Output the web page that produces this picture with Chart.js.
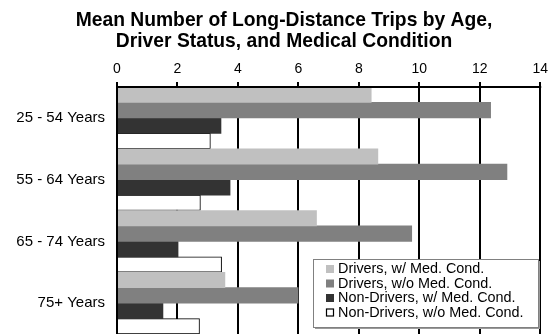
<!DOCTYPE html>
<html>
<head>
<meta charset="utf-8">
<script src="https://cdn.jsdelivr.net/npm/chart.js@4"></script>
<style>
  html, body { margin: 0; padding: 0; background: #fff; overflow: hidden; }
  #wrap { width: 552px; height: 334px; }
</style>
</head>
<body>
<div id="wrap"><canvas id="c" width="552" height="334"></canvas></div>
<script>
const FONT = "'Liberation Sans', Arial, Helvetica, sans-serif";

const titleLines = ['Mean Number of Long-Distance Trips by Age,', 'Driver Status, and Medical Condition'];
const categories = ['25 - 54 Years', '55 - 64 Years', '65 - 74 Years', '75+ Years'];
const seriesNames = ['Drivers, w/ Med. Cond.', 'Drivers, w/o Med. Cond.', 'Non-Drivers, w/ Med. Cond.', 'Non-Drivers, w/o Med. Cond.'];
const driversWithMed = [8.41, 8.63, 6.60, 3.57];
const driversWithoutMed = [12.36, 12.90, 9.75, 5.99];
const nonDriversWithMed = [3.44, 3.74, 2.02, 1.52];
const nonDriversWithoutMed = [3.09, 2.76, 3.46, 2.73];
const xTicks = [0, 2, 4, 6, 8, 10, 12, 14];

const fills = ['#c0c0c0', '#808080', '#333333', '#ffffff'];
const seriesValues = [driversWithMed, driversWithoutMed, nonDriversWithMed, nonDriversWithoutMed];

// Title, axis edges redrawn over the bars, and the boxed legend inside the plot
const decorations = {
  id: 'decorations',
  afterDatasetsDraw(chart) {
    const { ctx, chartArea: a } = chart;
    ctx.save();
    ctx.strokeStyle = '#000';
    ctx.lineWidth = 2;
    ctx.beginPath();
    ctx.moveTo(a.left, a.top);
    ctx.lineTo(a.left, a.bottom);
    ctx.moveTo(a.left - 1, a.top);
    ctx.lineTo(a.right + 1, a.top);
    ctx.stroke();
    ctx.restore();
  },
  afterDraw(chart) {
    const { ctx } = chart;
    ctx.save();
    // title
    ctx.fillStyle = '#000';
    ctx.font = 'bold 19.3px ' + FONT;
    ctx.textAlign = 'center';
    ctx.textBaseline = 'alphabetic';
    ctx.fillText(titleLines[0], 284, 26);
    ctx.fillText(titleLines[1], 284, 47);

    // legend box
    const bx = 313, by = 259, bw = 225, bh = 68;
    ctx.fillStyle = '#9a9a9a';
    ctx.fillRect(bx + 2, by + 2, bw, bh);
    ctx.fillStyle = '#fff';
    ctx.fillRect(bx, by, bw, bh);
    ctx.strokeStyle = '#808080';
    ctx.lineWidth = 1;
    ctx.strokeRect(bx + 0.5, by + 0.5, bw, bh);

    ctx.font = '14.4px ' + FONT;
    ctx.textAlign = 'left';
    ctx.textBaseline = 'middle';
    chart.data.datasets.forEach((ds, i) => {
      const y = by + 10 + i * 14.5;
      const mx = 326;
      ctx.fillStyle = ds.backgroundColor;
      ctx.fillRect(mx, y - 4, 8, 8);
      if (ds.borderWidth) {
        ctx.strokeStyle = '#000';
        ctx.lineWidth = 1.2;
        ctx.strokeRect(mx + 0.5, y - 3.5, 7, 7);
      }
      ctx.fillStyle = '#000';
      ctx.fillText(ds.label, 338, y + 0.5);
    });
    ctx.restore();
  }
};

new Chart(document.getElementById('c'), {
  type: 'bar',
  data: {
    labels: categories,
    datasets: seriesNames.map((name, i) => ({
      label: name,
      data: seriesValues[i],
      backgroundColor: fills[i],
      borderColor: '#000',
      borderWidth: i === 3 ? 1 : 0,
      borderSkipped: 'start',
      barPercentage: 1,
      categoryPercentage: 1
    }))
  },
  options: {
    indexAxis: 'y',
    responsive: false,
    animation: false,
    devicePixelRatio: 1,
    layout: { padding: { top: 0, right: 9, bottom: 0, left: 0 } },
    plugins: {
      legend: { display: false },
      title: { display: false },
      tooltip: { enabled: false }
    },
    scales: {
      x: {
        position: 'top',
        min: 0,
        max: 14,
        afterBuildTicks(scale) { scale.ticks = xTicks.map(v => ({ value: v })); },
        afterFit(scale) { scale.height = 87; },
        grid: { color: '#000', lineWidth: 2, drawTicks: true, tickLength: 5, tickColor: '#000' },
        border: { display: true, color: '#000', width: 2 },
        ticks: { color: '#000', font: { family: FONT, size: 14 }, padding: 4, maxRotation: 0 }
      },
      y: {
        afterFit(scale) {
          scale.width = 117;
          scale.paddingTop = 0;
          scale.paddingBottom = 0;
        },
        grid: { display: false, drawTicks: false },
        border: { display: true, color: '#000', width: 2 },
        ticks: { color: '#000', font: { family: FONT, size: 15 }, padding: 12 }
      }
    }
  },
  plugins: [decorations]
});
</script>
</body>
</html>
